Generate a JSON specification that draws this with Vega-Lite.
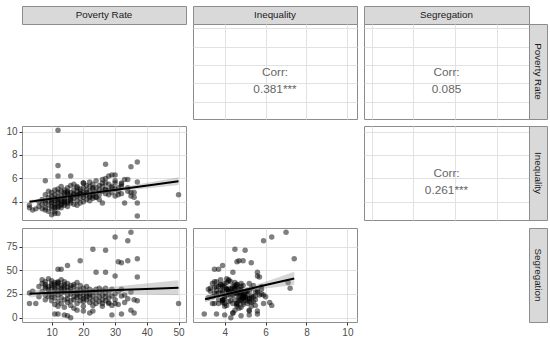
{
"$schema": "https://vega.github.io/schema/vega-lite/v6.json",
"padding": 5,
"bounds": "flush",
"columns": 6,
"spacing": 0,
"datasets": {
"d": [
{"p":12,"i":10.1,"s":null},{"p":37,"i":2.8,"s":null},{"p":10,"i":2.9,"s":null},{"p":11,"i":3.0,"s":null},{"p":12,"i":3.0,"s":4},{"p":12,"i":6.2,"s":null},{"p":16,"i":6.2,"s":null},
{"p":35,"i":7.0,"s":90},{"p":30,"i":6.3,"s":85},{"p":34,"i":5.9,"s":81},{"p":23,"i":4.5,"s":72},{"p":27,"i":5.0,"s":71},{"p":37,"i":7.4,"s":62},{"p":34,"i":4.9,"s":60},{"p":31,"i":4.6,"s":59},{"p":32,"i":5.3,"s":58},{"p":19,"i":4.7,"s":60},
{"p":15,"i":3.9,"s":55},{"p":12,"i":3.5,"s":51},{"p":13,"i":3.7,"s":51},{"p":27,"i":5.6,"s":48},{"p":24,"i":4.4,"s":48},{"p":37,"i":5.7,"s":43},{"p":30,"i":5.6,"s":44},{"p":12,"i":7.1,"s":37},{"p":27,"i":7.2,"s":31},
{"p":29,"i":6.3,"s":13},{"p":28,"i":6.2,"s":16},{"p":26,"i":5.9,"s":15},{"p":50,"i":4.6,"s":15},{"p":3,"i":3.5,"s":15},{"p":5,"i":3.4,"s":15},{"p":3,"i":3.7,"s":26},{"p":4,"i":3.3,"s":28},
{"p":36,"i":4.8,"s":19},{"p":37,"i":3.9,"s":18},{"p":35,"i":4.5,"s":8},{"p":36,"i":4.4,"s":5},{"p":32,"i":5.6,"s":4},{"p":29,"i":5.2,"s":3},{"p":16,"i":4.3,"s":0},{"p":11,"i":3.6,"s":4},{"p":14,"i":4.0,"s":3},{"p":15,"i":4.8,"s":2},
{"p":18,"i":5.2,"s":8},{"p":20,"i":5.6,"s":7},{"p":23,"i":5.2,"s":7},{"p":22,"i":4.4,"s":5},{"p":8,"i":5.8,"s":33},
{"p":6,"i":3.6,"s":33},{"p":6,"i":4.0,"s":22},{"p":7,"i":3.4,"s":36},{"p":7,"i":4.2,"s":28},{"p":7,"i":3.8,"s":40},
{"p":8,"i":3.3,"s":31},{"p":8,"i":4.1,"s":24},{"p":8,"i":4.6,"s":35},{"p":8,"i":3.9,"s":19},{"p":8,"i":3.5,"s":38},
{"p":9,"i":4.4,"s":27},{"p":9,"i":3.7,"s":33},{"p":9,"i":4.9,"s":22},{"p":9,"i":3.2,"s":30},{"p":9,"i":4.1,"s":41},
{"p":10,"i":4.0,"s":36},{"p":10,"i":3.6,"s":25},{"p":10,"i":4.5,"s":31},{"p":10,"i":4.8,"s":18},{"p":10,"i":3.9,"s":34},{"p":10,"i":3.4,"s":22},{"p":10,"i":4.2,"s":39},
{"p":11,"i":4.3,"s":30},{"p":11,"i":3.8,"s":35},{"p":11,"i":5.0,"s":26},{"p":11,"i":4.6,"s":14},{"p":11,"i":3.5,"s":32},{"p":11,"i":4.1,"s":37},{"p":11,"i":3.2,"s":21},
{"p":12,"i":4.4,"s":33},{"p":12,"i":3.9,"s":28},{"p":12,"i":4.8,"s":36},{"p":12,"i":4.2,"s":17},{"p":12,"i":3.6,"s":38},{"p":12,"i":5.1,"s":24},{"p":12,"i":4.0,"s":12},
{"p":13,"i":4.5,"s":34},{"p":13,"i":3.8,"s":29},{"p":13,"i":4.9,"s":21},{"p":13,"i":4.2,"s":40},{"p":13,"i":4.0,"s":15},{"p":13,"i":5.3,"s":31},{"p":13,"i":3.5,"s":26},
{"p":14,"i":4.6,"s":35},{"p":14,"i":4.1,"s":30},{"p":14,"i":3.7,"s":19},{"p":14,"i":5.0,"s":27},{"p":14,"i":4.3,"s":38},{"p":14,"i":4.8,"s":11},{"p":14,"i":3.9,"s":33},
{"p":15,"i":4.4,"s":24},{"p":15,"i":4.0,"s":32},{"p":15,"i":5.2,"s":36},{"p":15,"i":4.7,"s":20},{"p":15,"i":3.6,"s":29},{"p":15,"i":4.9,"s":16},
{"p":16,"i":4.5,"s":31},{"p":16,"i":4.2,"s":25},{"p":16,"i":5.4,"s":34},{"p":16,"i":3.9,"s":18},{"p":16,"i":4.8,"s":28},{"p":16,"i":4.1,"s":13},
{"p":17,"i":4.6,"s":33},{"p":17,"i":5.0,"s":22},{"p":17,"i":4.3,"s":27},{"p":17,"i":3.8,"s":35},{"p":17,"i":5.5,"s":19},{"p":17,"i":4.7,"s":10},
{"p":18,"i":4.5,"s":37},{"p":18,"i":4.9,"s":24},{"p":18,"i":4.1,"s":30},{"p":18,"i":5.3,"s":21},{"p":18,"i":3.7,"s":15},{"p":18,"i":4.6,"s":26},
{"p":19,"i":4.7,"s":22},{"p":19,"i":5.1,"s":29},{"p":19,"i":4.3,"s":18},{"p":19,"i":4.9,"s":34},{"p":19,"i":3.9,"s":26},
{"p":20,"i":4.8,"s":23},{"p":20,"i":4.4,"s":31},{"p":20,"i":5.2,"s":17},{"p":20,"i":5.6,"s":27},{"p":20,"i":4.0,"s":20},{"p":20,"i":4.6,"s":12},
{"p":21,"i":4.6,"s":25},{"p":21,"i":5.0,"s":19},{"p":21,"i":4.2,"s":28},{"p":21,"i":5.4,"s":22},{"p":21,"i":4.8,"s":33},
{"p":22,"i":4.9,"s":21},{"p":22,"i":4.5,"s":26},{"p":22,"i":5.3,"s":16},{"p":22,"i":4.1,"s":30},{"p":22,"i":5.7,"s":24},
{"p":23,"i":4.7,"s":18},{"p":23,"i":5.1,"s":28},{"p":23,"i":4.3,"s":23},{"p":23,"i":5.5,"s":13},
{"p":24,"i":4.8,"s":26},{"p":24,"i":5.2,"s":20},{"p":24,"i":4.4,"s":15},{"p":24,"i":5.8,"s":30},
{"p":25,"i":5.0,"s":22},{"p":25,"i":4.6,"s":27},{"p":25,"i":5.4,"s":17},{"p":25,"i":4.2,"s":31},
{"p":26,"i":4.9,"s":24},{"p":26,"i":5.3,"s":12},{"p":26,"i":3.9,"s":19},{"p":26,"i":5.6,"s":29},
{"p":27,"i":5.1,"s":18},{"p":27,"i":4.7,"s":26},{"p":27,"i":6.0,"s":22},
{"p":28,"i":5.0,"s":21},{"p":28,"i":5.5,"s":27},{"p":28,"i":4.6,"s":15},
{"p":29,"i":5.3,"s":23},{"p":29,"i":4.8,"s":30},
{"p":30,"i":5.1,"s":15},{"p":30,"i":5.8,"s":25},{"p":30,"i":4.5,"s":19},
{"p":31,"i":5.2,"s":28},{"p":31,"i":4.9,"s":14},
{"p":32,"i":5.5,"s":23},{"p":32,"i":4.7,"s":30},
{"p":33,"i":5.9,"s":24},{"p":33,"i":3.9,"s":16},
{"p":34,"i":5.2,"s":20},{"p":35,"i":4.8,"s":27}
],
"bA": [{"x":3,"lo":3.84,"hi":4.16,"f":4.0},{"x":10,"lo":4.155,"hi":4.365,"f":4.26},{"x":17,"lo":4.45,"hi":4.61,"f":4.53},{"x":25,"lo":4.72,"hi":4.94,"f":4.83},{"x":35,"lo":5.01,"hi":5.39,"f":5.2},{"x":42,"lo":5.2,"hi":5.72,"f":5.46},{"x":50,"lo":5.43,"hi":6.09,"f":5.76}],
"bB": [{"x":3,"lo":21.2,"hi":29.4,"f":25.3},{"x":10,"lo":23.3,"hi":29.3,"f":26.3},{"x":17,"lo":24.7,"hi":29.7,"f":27.2},{"x":25,"lo":25.2,"hi":31.4,"f":28.3},{"x":35,"lo":24.8,"hi":34.4,"f":29.6},{"x":42,"lo":24.2,"hi":36.8,"f":30.5},{"x":50,"lo":23.6,"hi":39.6,"f":31.6}],
"bC": [{"x":3.04,"lo":16.0,"hi":23.0,"f":19.5},{"x":3.5,"lo":19.2,"hi":24.4,"f":21.8},{"x":4,"lo":22.3,"hi":26.3,"f":24.3},{"x":4.6,"lo":25.5,"hi":29.1,"f":27.3},{"x":5.2,"lo":28.1,"hi":32.5,"f":30.3},{"x":6,"lo":30.8,"hi":38.0,"f":34.4},{"x":6.7,"lo":32.7,"hi":43.1,"f":37.9},{"x":7.4,"lo":34.4,"hi":48.4,"f":41.4}]
},
"concat": [
{"width":164,"height":18,"view":{"fill":"#d9d9d9","stroke":"#8c8c8c"},"data":{"values":[{"t":"Poverty Rate"}]},"mark":{"type":"text","fontSize":9.8,"color":"#1a1a1a"},"encoding":{"text":{"field":"t"}}},
{"width":7,"height":1,"data":{"values":[]},"mark":"text","view":{"stroke":null}},
{"width":164,"height":18,"view":{"fill":"#d9d9d9","stroke":"#8c8c8c"},"data":{"values":[{"t":"Inequality"}]},"mark":{"type":"text","fontSize":9.8,"color":"#1a1a1a"},"encoding":{"text":{"field":"t"}}},
{"width":7,"height":1,"data":{"values":[]},"mark":"text","view":{"stroke":null}},
{"width":165,"height":18,"view":{"fill":"#d9d9d9","stroke":"#8c8c8c"},"data":{"values":[{"t":"Segregation"}]},"mark":{"type":"text","fontSize":9.8,"color":"#1a1a1a"},"encoding":{"text":{"field":"t"}}},
{"width":1,"height":1,"data":{"values":[]},"mark":"text","view":{"stroke":null}},

{"width":164,"height":95,"data":{"values":[]},"mark":"text","view":{"stroke":null}},
{"width":1,"height":1,"data":{"values":[]},"mark":"text","view":{"stroke":null}},
{"width":164,"height":95,"resolve":{"scale":{"x":"independent","y":"independent"}},
 "layer":[
  {"data":{"values":[{"t":"Corr:\n0.381***"}]},"mark":{"type":"text","fontSize":11.8,"color":"#666666","lineBreak":"\n","lineHeight":17},
   "encoding":{
    "x":{"datum":6.46,"type":"quantitative","title":null,"scale":{"domain":[2.45,10.47],"nice":false,"zero":false},"axis":{"orient":"bottom","values":[4,6,8,10],"labels":false,"ticks":false,"gridColor":"#e2e2e2","gridWidth":1}},
    "y":{"datum":26.5,"type":"quantitative","title":null,"scale":{"domain":[0.65,52.35],"nice":false,"zero":false},"axis":{"orient":"left","values":[10,20,30,40,50],"labels":false,"ticks":false,"gridColor":"#e2e2e2","gridWidth":1}},
    "text":{"field":"t"}}},
  {"data":{"values":[{"t":""}]},"mark":{"type":"text"},
   "encoding":{
    "x":{"datum":6.46,"type":"quantitative","title":null,"scale":{"domain":[2.45,10.47],"nice":false,"zero":false},"axis":{"orient":"top","values":[3,5,7,9],"labels":false,"ticks":false,"gridColor":"#eaeaea","gridWidth":0.8}},
    "y":{"datum":26.5,"type":"quantitative","title":null,"scale":{"domain":[0.65,52.35],"nice":false,"zero":false},"axis":{"orient":"right","values":[5,15,25,35,45],"labels":false,"ticks":false,"gridColor":"#eaeaea","gridWidth":0.8}},
    "text":{"field":"t"}}}
 ]},
{"width":1,"height":1,"data":{"values":[]},"mark":"text","view":{"stroke":null}},
{"width":165,"height":95,"resolve":{"scale":{"x":"independent","y":"independent"}},
 "layer":[
  {"data":{"values":[{"t":"Corr:\n0.085"}]},"mark":{"type":"text","fontSize":11.8,"color":"#666666","lineBreak":"\n","lineHeight":17},
   "encoding":{
    "x":{"datum":45,"type":"quantitative","title":null,"scale":{"domain":[-4.5,94.5],"nice":false,"zero":false},"axis":{"orient":"bottom","values":[0,25,50,75],"labels":false,"ticks":false,"gridColor":"#e2e2e2","gridWidth":1}},
    "y":{"datum":26.5,"type":"quantitative","title":null,"scale":{"domain":[0.65,52.35],"nice":false,"zero":false},"axis":{"orient":"left","values":[10,20,30,40,50],"labels":false,"ticks":false,"gridColor":"#e2e2e2","gridWidth":1}},
    "text":{"field":"t"}}},
  {"data":{"values":[{"t":""}]},"mark":{"type":"text"},
   "encoding":{
    "x":{"datum":45,"type":"quantitative","title":null,"scale":{"domain":[-4.5,94.5],"nice":false,"zero":false},"axis":{"orient":"top","values":[12.5,37.5,62.5,87.5],"labels":false,"ticks":false,"gridColor":"#eaeaea","gridWidth":0.8}},
    "y":{"datum":26.5,"type":"quantitative","title":null,"scale":{"domain":[0.65,52.35],"nice":false,"zero":false},"axis":{"orient":"right","values":[5,15,25,35,45],"labels":false,"ticks":false,"gridColor":"#eaeaea","gridWidth":0.8}},
    "text":{"field":"t"}}}
 ]},
{"width":18,"height":95,"view":{"fill":"#d9d9d9","stroke":"#8c8c8c"},"data":{"values":[{"t":"Poverty Rate"}]},"mark":{"type":"text","fontSize":9.8,"color":"#1a1a1a","angle":90},"encoding":{"text":{"field":"t"}}},

{"width":1,"height":7,"data":{"values":[]},"mark":"text","view":{"stroke":null}},
{"width":1,"height":7,"data":{"values":[]},"mark":"text","view":{"stroke":null}},
{"width":1,"height":7,"data":{"values":[]},"mark":"text","view":{"stroke":null}},
{"width":1,"height":7,"data":{"values":[]},"mark":"text","view":{"stroke":null}},
{"width":1,"height":7,"data":{"values":[]},"mark":"text","view":{"stroke":null}},
{"width":1,"height":7,"data":{"values":[]},"mark":"text","view":{"stroke":null}},

{"width":164,"height":94,"resolve":{"scale":{"x":"independent","y":"independent"}},
 "layer":[
  {"data":{"name":"d"},"mark":{"type":"point","filled":true,"size":30,"color":"#000000","opacity":0.5},
   "encoding":{
    "x":{"field":"p","type":"quantitative","title":null,"scale":{"domain":[0.65,52.35],"nice":false,"zero":false},"axis":{"orient":"bottom","values":[10,20,30,40,50],"labels":false,"ticks":false,"gridColor":"#e2e2e2","gridWidth":1}},
    "y":{"field":"i","type":"quantitative","title":null,"scale":{"domain":[2.45,10.47],"nice":false,"zero":false},"axis":{"orient":"left","values":[4,6,8,10],"gridColor":"#e2e2e2","gridWidth":1}}}},
  {"data":{"name":"bA"},"mark":{"type":"area","color":"#999999","opacity":0.4},
   "encoding":{
    "x":{"field":"x","type":"quantitative","title":null,"scale":{"domain":[0.65,52.35],"nice":false,"zero":false},"axis":{"orient":"top","values":[5,15,25,35,45],"labels":false,"ticks":false,"gridColor":"#eaeaea","gridWidth":0.8}},
    "y":{"field":"lo","type":"quantitative","title":null,"scale":{"domain":[2.45,10.47],"nice":false,"zero":false},"axis":{"orient":"right","values":[3,5,7,9],"labels":false,"ticks":false,"gridColor":"#eaeaea","gridWidth":0.8}},
    "y2":{"field":"hi"}}},
  {"data":{"name":"bA"},"mark":{"type":"line","color":"#000000","strokeWidth":2},
   "encoding":{
    "x":{"field":"x","type":"quantitative","title":null,"scale":{"domain":[0.65,52.35],"nice":false,"zero":false},"axis":null},
    "y":{"field":"f","type":"quantitative","title":null,"scale":{"domain":[2.45,10.47],"nice":false,"zero":false},"axis":null}}}
 ]},
{"width":1,"height":1,"data":{"values":[]},"mark":"text","view":{"stroke":null}},
{"width":1,"height":1,"data":{"values":[]},"mark":"text","view":{"stroke":null}},
{"width":1,"height":1,"data":{"values":[]},"mark":"text","view":{"stroke":null}},
{"width":165,"height":94,"resolve":{"scale":{"x":"independent","y":"independent"}},
 "layer":[
  {"data":{"values":[{"t":"Corr:\n0.261***"}]},"mark":{"type":"text","fontSize":11.8,"color":"#666666","lineBreak":"\n","lineHeight":17},
   "encoding":{
    "x":{"datum":45,"type":"quantitative","title":null,"scale":{"domain":[-4.5,94.5],"nice":false,"zero":false},"axis":{"orient":"bottom","values":[0,25,50,75],"labels":false,"ticks":false,"gridColor":"#e2e2e2","gridWidth":1}},
    "y":{"datum":6.46,"type":"quantitative","title":null,"scale":{"domain":[2.45,10.47],"nice":false,"zero":false},"axis":{"orient":"left","values":[4,6,8,10],"labels":false,"ticks":false,"gridColor":"#e2e2e2","gridWidth":1}},
    "text":{"field":"t"}}},
  {"data":{"values":[{"t":""}]},"mark":{"type":"text"},
   "encoding":{
    "x":{"datum":45,"type":"quantitative","title":null,"scale":{"domain":[-4.5,94.5],"nice":false,"zero":false},"axis":{"orient":"top","values":[12.5,37.5,62.5,87.5],"labels":false,"ticks":false,"gridColor":"#eaeaea","gridWidth":0.8}},
    "y":{"datum":6.46,"type":"quantitative","title":null,"scale":{"domain":[2.45,10.47],"nice":false,"zero":false},"axis":{"orient":"right","values":[3,5,7,9],"labels":false,"ticks":false,"gridColor":"#eaeaea","gridWidth":0.8}},
    "text":{"field":"t"}}}
 ]},
{"width":18,"height":94,"view":{"fill":"#d9d9d9","stroke":"#8c8c8c"},"data":{"values":[{"t":"Inequality"}]},"mark":{"type":"text","fontSize":9.8,"color":"#1a1a1a","angle":90},"encoding":{"text":{"field":"t"}}},

{"width":1,"height":8,"data":{"values":[]},"mark":"text","view":{"stroke":null}},
{"width":1,"height":8,"data":{"values":[]},"mark":"text","view":{"stroke":null}},
{"width":1,"height":8,"data":{"values":[]},"mark":"text","view":{"stroke":null}},
{"width":1,"height":8,"data":{"values":[]},"mark":"text","view":{"stroke":null}},
{"width":1,"height":8,"data":{"values":[]},"mark":"text","view":{"stroke":null}},
{"width":1,"height":8,"data":{"values":[]},"mark":"text","view":{"stroke":null}},

{"width":164,"height":94,"resolve":{"scale":{"x":"independent","y":"independent"}},
 "layer":[
  {"data":{"name":"d"},"mark":{"type":"point","filled":true,"size":30,"color":"#000000","opacity":0.5},
   "encoding":{
    "x":{"field":"p","type":"quantitative","title":null,"scale":{"domain":[0.65,52.35],"nice":false,"zero":false},"axis":{"orient":"bottom","values":[10,20,30,40,50],"gridColor":"#e2e2e2","gridWidth":1}},
    "y":{"field":"s","type":"quantitative","title":null,"scale":{"domain":[-4.5,94.5],"nice":false,"zero":false},"axis":{"orient":"left","values":[0,25,50,75],"gridColor":"#e2e2e2","gridWidth":1}}}},
  {"data":{"name":"bB"},"mark":{"type":"area","color":"#999999","opacity":0.4},
   "encoding":{
    "x":{"field":"x","type":"quantitative","title":null,"scale":{"domain":[0.65,52.35],"nice":false,"zero":false},"axis":{"orient":"top","values":[5,15,25,35,45],"labels":false,"ticks":false,"gridColor":"#eaeaea","gridWidth":0.8}},
    "y":{"field":"lo","type":"quantitative","title":null,"scale":{"domain":[-4.5,94.5],"nice":false,"zero":false},"axis":{"orient":"right","values":[12.5,37.5,62.5,87.5],"labels":false,"ticks":false,"gridColor":"#eaeaea","gridWidth":0.8}},
    "y2":{"field":"hi"}}},
  {"data":{"name":"bB"},"mark":{"type":"line","color":"#000000","strokeWidth":2},
   "encoding":{
    "x":{"field":"x","type":"quantitative","title":null,"scale":{"domain":[0.65,52.35],"nice":false,"zero":false},"axis":null},
    "y":{"field":"f","type":"quantitative","title":null,"scale":{"domain":[-4.5,94.5],"nice":false,"zero":false},"axis":null}}}
 ]},
{"width":1,"height":1,"data":{"values":[]},"mark":"text","view":{"stroke":null}},
{"width":164,"height":94,"resolve":{"scale":{"x":"independent","y":"independent"}},
 "layer":[
  {"data":{"name":"d"},"mark":{"type":"point","filled":true,"size":30,"color":"#000000","opacity":0.5},
   "encoding":{
    "x":{"field":"i","type":"quantitative","title":null,"scale":{"domain":[2.45,10.47],"nice":false,"zero":false},"axis":{"orient":"bottom","values":[4,6,8,10],"gridColor":"#e2e2e2","gridWidth":1}},
    "y":{"field":"s","type":"quantitative","title":null,"scale":{"domain":[-4.5,94.5],"nice":false,"zero":false},"axis":{"orient":"left","values":[0,25,50,75],"labels":false,"ticks":false,"gridColor":"#e2e2e2","gridWidth":1}}}},
  {"data":{"name":"bC"},"mark":{"type":"area","color":"#999999","opacity":0.4},
   "encoding":{
    "x":{"field":"x","type":"quantitative","title":null,"scale":{"domain":[2.45,10.47],"nice":false,"zero":false},"axis":{"orient":"top","values":[3,5,7,9],"labels":false,"ticks":false,"gridColor":"#eaeaea","gridWidth":0.8}},
    "y":{"field":"lo","type":"quantitative","title":null,"scale":{"domain":[-4.5,94.5],"nice":false,"zero":false},"axis":{"orient":"right","values":[12.5,37.5,62.5,87.5],"labels":false,"ticks":false,"gridColor":"#eaeaea","gridWidth":0.8}},
    "y2":{"field":"hi"}}},
  {"data":{"name":"bC"},"mark":{"type":"line","color":"#000000","strokeWidth":2},
   "encoding":{
    "x":{"field":"x","type":"quantitative","title":null,"scale":{"domain":[2.45,10.47],"nice":false,"zero":false},"axis":null},
    "y":{"field":"f","type":"quantitative","title":null,"scale":{"domain":[-4.5,94.5],"nice":false,"zero":false},"axis":null}}}
 ]},
{"width":1,"height":1,"data":{"values":[]},"mark":"text","view":{"stroke":null}},
{"width":165,"height":94,"data":{"values":[]},"mark":"text","view":{"stroke":null}},
{"width":18,"height":94,"view":{"fill":"#d9d9d9","stroke":"#8c8c8c"},"data":{"values":[{"t":"Segregation"}]},"mark":{"type":"text","fontSize":9.8,"color":"#1a1a1a","angle":90},"encoding":{"text":{"field":"t"}}},

{"width":1,"height":14,"data":{"values":[]},"mark":"text","view":{"stroke":null}},
{"width":1,"height":14,"data":{"values":[]},"mark":"text","view":{"stroke":null}},
{"width":1,"height":14,"data":{"values":[]},"mark":"text","view":{"stroke":null}},
{"width":1,"height":14,"data":{"values":[]},"mark":"text","view":{"stroke":null}},
{"width":1,"height":14,"data":{"values":[]},"mark":"text","view":{"stroke":null}},
{"width":1,"height":14,"data":{"values":[]},"mark":"text","view":{"stroke":null}}
],
"config": {
 "view": {"stroke": "#8c8c8c", "strokeWidth": 1},
 "axis": {"labelFont": "Liberation Sans", "labelFontSize": 10, "labelColor": "#4d4d4d", "tickColor": "#333333", "tickSize": 3, "labelPadding": 2, "domain": false, "labelFlush": false, "labelOverlap": false, "grid": true},
 "text": {"font": "Liberation Sans"}
}
}
